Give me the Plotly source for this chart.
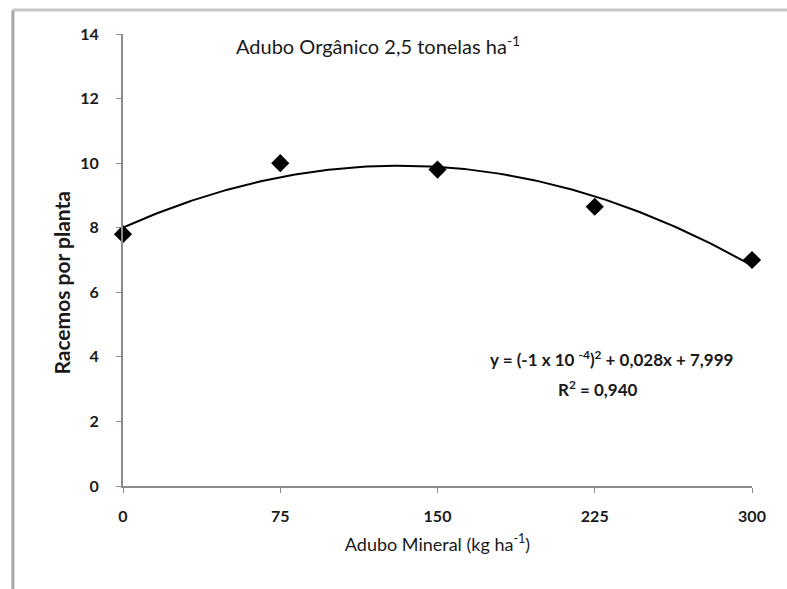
import numpy as np
import plotly.graph_objects as go

# Mineral fertiliser doses (kg/ha) and racemes per plant
doses = [0, 75, 150, 225, 300]
racemes = [7.8, 10.0, 9.8, 8.65, 7.0]

x_ticks = [0, 75, 150, 225, 300]
y_ticks = [0, 2, 4, 6, 8, 10, 12, 14]

title_text = "Adubo Orgânico 2,5 tonelas ha<sup>-1</sup>"
x_title = "Adubo Mineral (kg ha<sup>-1</sup>)"
y_title = "<b>Racemos por planta</b>"
equation = "<b>y = (-1 x 10 <sup>-4</sup>)<sup>2</sup> + 0,028x + 7,999</b>"
r2_text = "<b>R<sup>2</sup> = 0,940</b>"

# Second-order polynomial trend line
coef = np.polyfit(doses, racemes, 2)
xs = np.linspace(0, 300, 200)
ys = np.polyval(coef, xs)

FONT = "Lato"
INK = "#1a1a1a"
AXIS = "#8c8c8c"

fig = go.Figure()
fig.add_trace(go.Scatter(x=xs, y=ys, mode="lines",
                         line=dict(color="black", width=2),
                         hoverinfo="skip", showlegend=False,
                         cliponaxis=False))
fig.add_trace(go.Scatter(x=doses, y=racemes, mode="markers",
                         marker=dict(symbol="diamond", size=14, color="black"),
                         showlegend=False, cliponaxis=False))

fig.update_layout(
    width=787, height=589,
    margin=dict(l=123, r=35, t=34, b=103),
    paper_bgcolor="white", plot_bgcolor="white",
    font=dict(family=FONT, color=INK),
    xaxis=dict(range=[0, 300], tickvals=x_ticks,
               ticktext=[f"<b>{v}</b>" for v in x_ticks], showgrid=False,
               zeroline=False, showline=True, linecolor=AXIS, linewidth=2,
               ticks="outside", ticklen=5, tickcolor=AXIS, tickwidth=1,
               ticklabelstandoff=10,
               tickfont=dict(size=16, family=FONT, color=INK),
               title=dict(text=x_title, font=dict(size=18, family=FONT, color=INK),
                          standoff=14)),
    yaxis=dict(range=[0, 14], tickvals=y_ticks,
               ticktext=[f"<b>{v}</b>" for v in y_ticks], showgrid=False,
               zeroline=False, showline=True, linecolor=AXIS, linewidth=2,
               ticks="outside", ticklen=5, tickcolor=AXIS, tickwidth=1,
               ticklabelstandoff=14,
               tickfont=dict(size=16, family=FONT, color=INK)),
    annotations=[
        dict(text=title_text, x=0.405, y=0.975, xref="paper", yref="paper",
             showarrow=False, font=dict(size=20, family=FONT, color=INK),
             xanchor="center", yanchor="middle"),
        dict(text=y_title, x=-0.097, y=0.45, xref="paper", yref="paper",
             textangle=-90, showarrow=False,
             font=dict(size=21, family=FONT, color=INK),
             xanchor="center", yanchor="middle"),
        dict(text=equation, x=0.776, y=0.283, xref="paper", yref="paper",
             showarrow=False, font=dict(size=17, family=FONT, color=INK),
             xanchor="center", yanchor="middle"),
        dict(text=r2_text, x=0.755, y=0.216, xref="paper", yref="paper",
             showarrow=False, font=dict(size=17, family=FONT, color=INK),
             xanchor="center", yanchor="middle"),
    ],
    shapes=[
        dict(type="line", xref="paper", yref="paper",
             x0=-0.175, x1=-0.175, y0=1.053, y1=-0.25,
             line=dict(color="#a6a6a6", width=3)),
        dict(type="line", xref="paper", yref="paper",
             x0=-0.175, x1=1.06, y0=1.053, y1=1.053,
             line=dict(color="#c8c8c8", width=3)),
    ],
)

fig.write_html("out.html")
